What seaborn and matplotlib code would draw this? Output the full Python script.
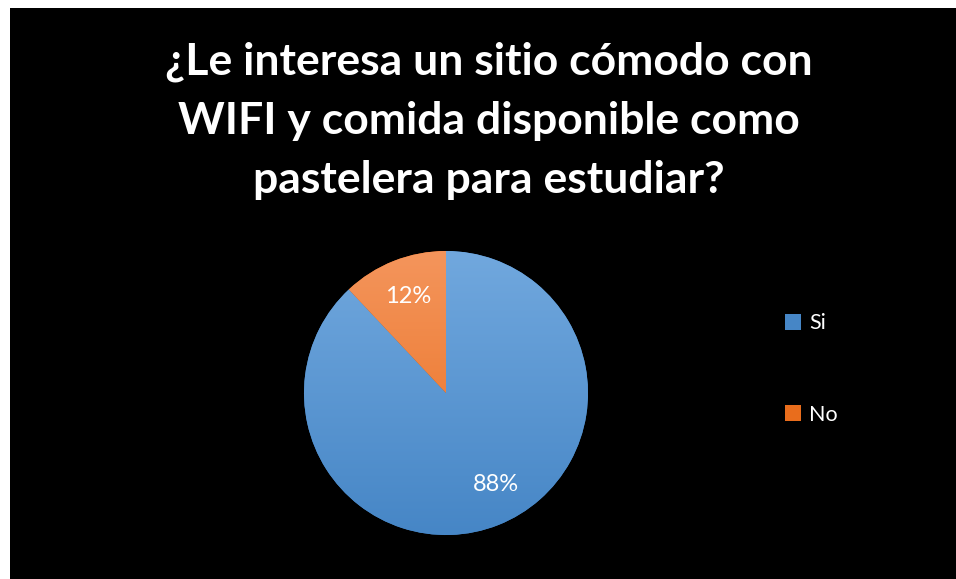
import numpy as np
import matplotlib
matplotlib.use("Agg")
import matplotlib.pyplot as plt
from matplotlib.patches import Patch, Rectangle
from matplotlib.colors import LinearSegmentedColormap
import seaborn as sns

# Survey answers
categories = ["Si", "No"]
shares = [88, 12]
title_text = "¿Le interesa un sitio cómodo con\nWIFI y comida disponible como\npastelera para estudiar?"

# top / bottom shades for each slice
top_colors = ["#71a8de", "#f4955c"]
bottom_colors = ["#4686c6", "#e96d1c"]

sns.set_theme(style="white")
plt.rcParams["font.family"] = ["Lato", "DejaVu Sans"]

W, H = 956, 579
fig = plt.figure(figsize=(W / 100, H / 100), dpi=100, facecolor="white")

# black chart area
fig.patches.append(Rectangle((10 / W, 0), 1 - 10 / W, (H - 8) / H,
                             transform=fig.transFigure, facecolor="black",
                             edgecolor="none", zorder=-1))

cx, cy, R = 446, 393, 142
ax = fig.add_axes([(cx - R) / W, (H - cy - R) / H, 2 * R / W, 2 * R / H])
ax.set_facecolor("none")

palette = sns.color_palette(bottom_colors)
wedges, texts, autotexts = ax.pie(
    shares, colors=palette, startangle=90, counterclock=False,
    autopct="%1.0f%%", pctdistance=0.73,
    textprops=dict(color="white", fontsize=17),
    wedgeprops=dict(edgecolor="none", linewidth=0),
)
ax.set_xlim(-1, 1)
ax.set_ylim(-1, 1)
ax.axis("off")

# nudge the large slice's label a little towards its right side
w0 = wedges[0]
mid = np.deg2rad((w0.theta1 + w0.theta2) / 2 + 7)
autotexts[0].set_position((0.73 * np.cos(mid), 0.73 * np.sin(mid)))

# vertical gradient fill for each slice
grad = np.linspace(0, 1, 256).reshape(-1, 1)
for w, c0, c1 in zip(wedges, top_colors, bottom_colors):
    cmap = LinearSegmentedColormap.from_list("g", [c0, c1])
    im = ax.imshow(grad, cmap=cmap, extent=(-1, 1, -1, 1), origin="upper",
                   aspect="auto", zorder=1, interpolation="bilinear")
    im.set_clip_path(w)
for t in autotexts:
    t.set_zorder(3)

fig.text(489 / W, (H - 121) / H, title_text, ha="center", va="center",
         color="white", fontsize=32, fontweight="bold", linespacing=1.58)

handles = [Patch(facecolor=c, edgecolor="none") for c in bottom_colors]
leg = fig.legend(handles, categories, loc="center left",
                 bbox_to_anchor=(785 / W, (H - 369) / H),
                 frameon=False, fontsize=15.5, labelcolor="white",
                 handlelength=0.76, handleheight=0.76, handletextpad=0.35,
                 labelspacing=3.3, borderpad=0, borderaxespad=0)

fig.savefig("out.png", dpi=100, facecolor=fig.get_facecolor())
